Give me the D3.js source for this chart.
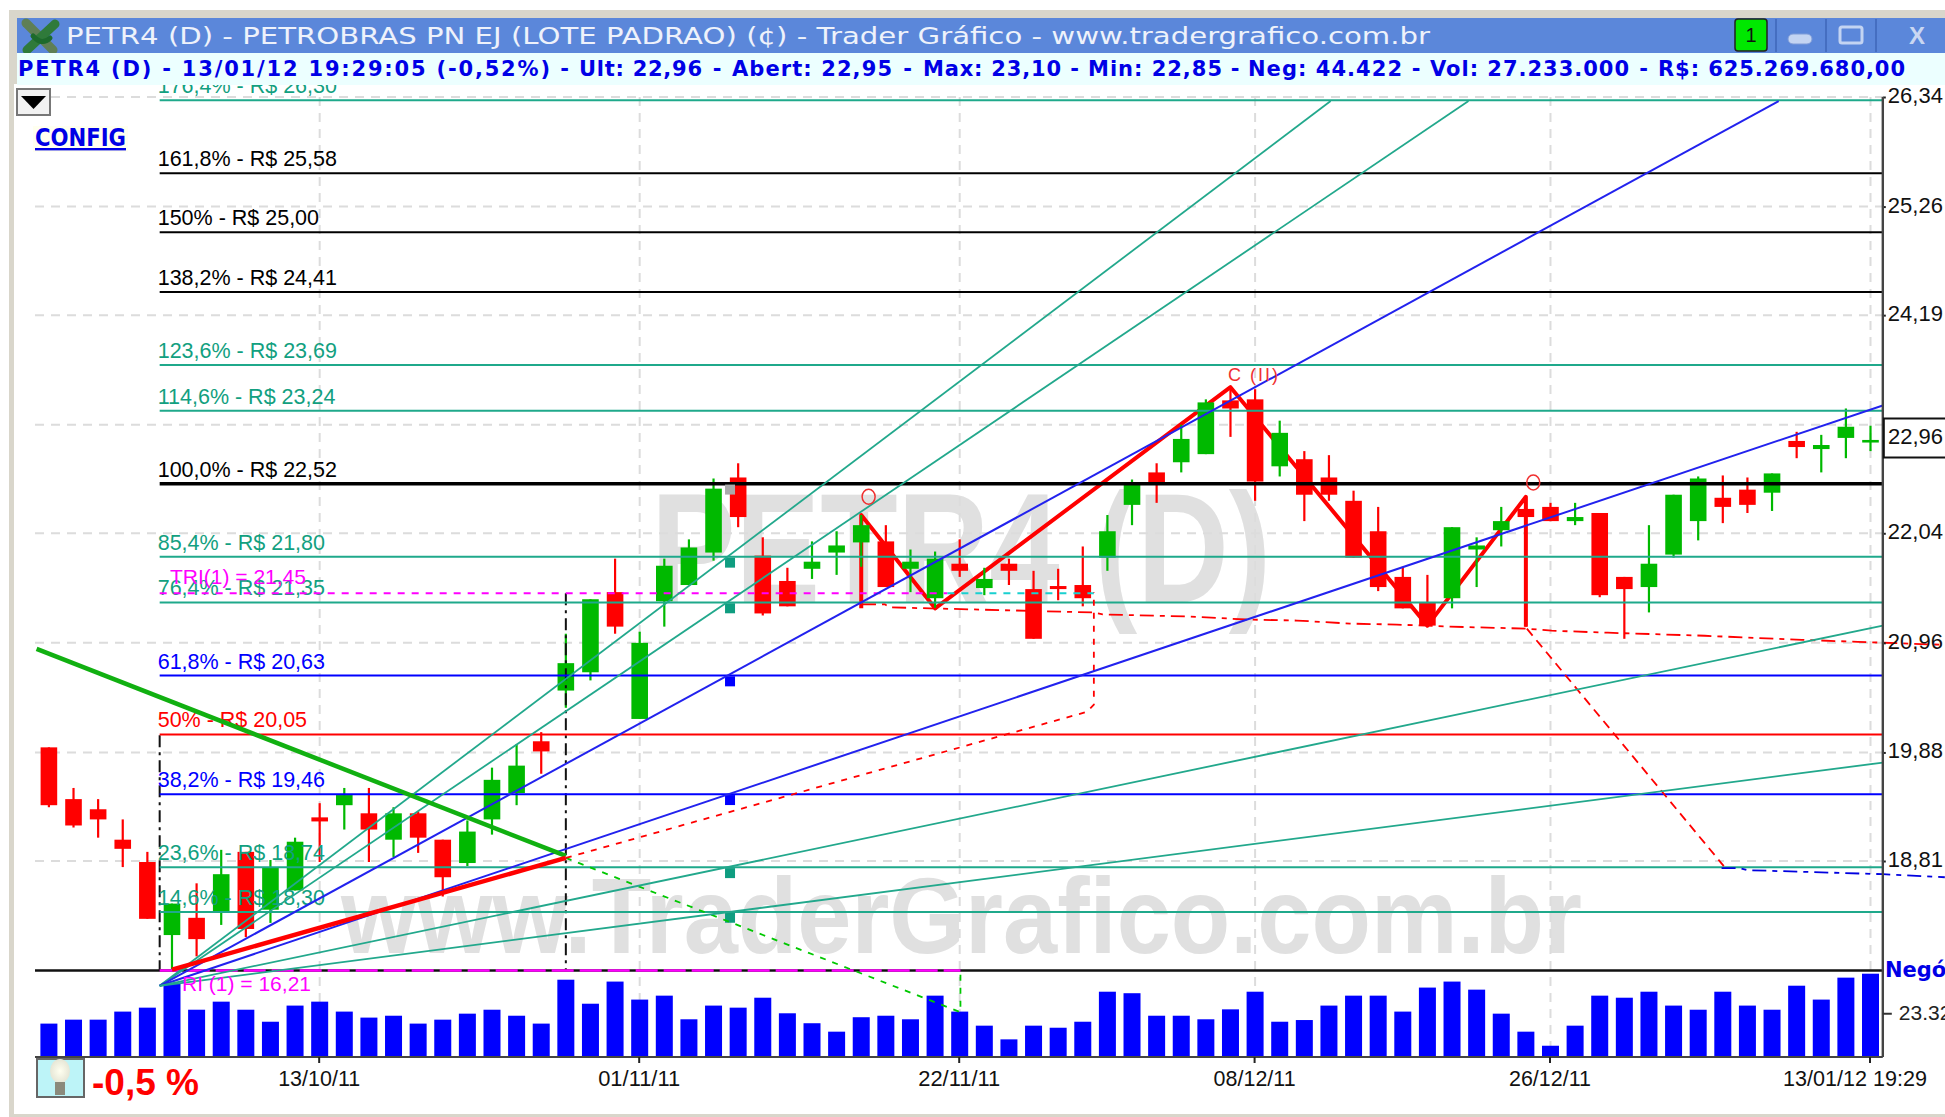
<!DOCTYPE html>
<html>
<head>
<meta charset="utf-8">
<script src="https://cdnjs.cloudflare.com/ajax/libs/d3/7.8.5/d3.min.js"></script>
<style>
html,body{margin:0;padding:0;background:#fff;overflow:hidden}
svg{display:block}
text{font-family:"Liberation Sans",Arial,sans-serif}
</style>
</head>
<body>
<svg id="c" width="1945" height="1117"></svg>
<script>
const dateTicks=[11,24,37,49,61,74];
const dateLabels=["13/10/11","01/11/11","22/11/11","08/12/11","26/12/11","13/01/12 19:29"];
const priceTicks=[26.34,25.26,24.19,22.04,20.96,19.88,18.81];
const priceGrid=[26.34,25.26,24.19,23.11,22.04,20.96,19.88,18.81];
const opens=[19.93,19.42,19.32,19.02,18.80,18.08,18.25,18.30,18.90,18.33,18.52,19.24,19.36,19.28,19.02,19.28,19.02,18.79,19.22,19.48,19.99,20.49,20.67,21.46,20.21,21.37,21.53,21.85,22.59,21.82,21.57,21.69,21.85,21.95,21.96,21.69,21.40,21.74,21.50,21.74,21.49,21.52,21.53,21.80,22.32,22.64,22.74,22.82,23.35,23.36,22.70,22.77,22.59,22.36,22.06,21.61,21.36,21.40,21.88,22.07,22.28,22.30,22.16,22.24,21.61,21.51,21.83,22.16,22.39,22.47,22.44,22.95,22.87,22.98,22.95];
const highs=[19.93,19.53,19.42,19.22,18.90,18.39,18.59,18.92,18.90,18.82,19.04,19.38,19.53,19.53,19.34,19.30,19.02,19.21,19.73,19.96,20.08,21.05,21.39,21.79,21.07,21.79,21.98,22.58,22.73,22.00,21.70,21.96,22.06,22.22,22.12,21.88,21.86,21.98,21.70,21.79,21.67,21.69,21.91,22.22,22.57,22.73,23.11,23.36,23.48,23.46,23.15,22.85,22.81,22.46,22.30,21.71,21.63,22.10,22.00,22.30,22.40,22.34,22.34,22.24,21.61,22.12,22.42,22.60,22.61,22.59,22.63,23.04,23.01,23.27,23.10];
const lows=[19.34,19.14,19.04,18.75,18.24,17.74,17.87,18.18,18.06,18.20,18.52,18.80,19.12,18.80,18.85,18.89,18.46,18.76,19.07,19.36,19.67,20.32,20.59,21.05,20.21,21.12,21.53,21.77,22.10,21.23,21.32,21.59,21.63,21.71,21.51,21.46,21.30,21.61,21.43,21.53,21.00,21.38,21.32,21.67,22.12,22.34,22.64,22.82,22.99,22.36,22.60,22.16,22.36,21.80,21.47,21.30,21.13,21.30,21.51,21.91,21.12,22.16,22.12,21.41,21.00,21.26,21.80,21.97,22.14,22.24,22.26,22.78,22.64,22.78,22.85];
const closes=[19.36,19.16,19.22,18.93,18.24,18.39,18.04,18.68,18.14,18.75,19.00,19.20,19.46,19.12,19.28,19.04,18.65,19.10,19.61,19.75,19.89,20.76,21.39,21.12,20.96,21.72,21.90,22.48,22.20,21.25,21.32,21.76,21.92,22.12,21.51,21.76,21.79,21.67,21.59,21.67,21.00,21.49,21.40,22.06,22.54,22.52,22.97,23.33,23.27,22.55,23.03,22.42,22.42,21.80,21.51,21.30,21.13,22.10,21.92,22.16,22.20,22.16,22.20,21.43,21.49,21.74,22.42,22.58,22.30,22.32,22.63,22.89,22.91,23.09,22.96];
const trades=[17.8,19.9,19.9,24.2,26.3,39.6,25.2,29.5,25.2,18.8,27.4,29.5,24.2,21.0,22.0,17.8,19.9,23.1,25.2,22.0,17.8,41.2,28.4,40.2,30.6,32.7,20.1,27.4,26.3,31.6,23.3,18.0,13.5,21.2,22.0,20.1,32.7,24.2,16.7,9.4,16.7,15.6,18.8,34.8,34.0,22.0,22.0,20.1,25.4,34.8,18.8,19.7,27.4,32.7,32.7,24.2,37.0,40.2,35.9,23.1,13.5,6.0,16.7,32.7,31.6,34.8,27.4,25.2,34.8,27.4,25.2,38.0,30.6,42.3,44.4];
const fibPercents=["176,4%","161,8%","150%","138,2%","123,6%","114,6%","100,0%","85,4%","76,4%","61,8%","50%","38,2%","23,6%","14,6%"];
const fibPrices=[26.30,25.58,25.00,24.41,23.69,23.24,22.52,21.80,21.35,20.63,20.05,19.46,18.74,18.30];
const fibKinds=["teal","black","black","black","teal","teal","heavy","teal","teal","blue","red","blue","teal","teal"];
const squarePrices=[22.52,21.80,21.35,20.63,19.46,18.74,18.30];
const squareKinds=["gray","teal","teal","blue","blue","teal","teal"];
const fanStart=[4.5,17.58];
const fanEnds=[[52.07,26.30],[57.67,26.30],[70.27,26.30],[74.5,23.30],[74.5,21.13],[74.5,19.78]];
const fanKinds=["teal","teal","blue","blue","teal","teal"];
const zigzag=[[33,21.30],[33,22.22],[36,21.30],[48,23.48],[56,21.13],[60,22.40],[60,21.12]];
const baseLine=[[5,17.74],[21,18.84]];
const downTrend=[[-0.5,20.90],[21,18.86]];
const greenDash=[[21,18.84],[37.03,17.32],[37.03,17.74]];
const redDashUp=[[21,18.84],[42.16,20.28],[42.45,20.35],[42.45,21.46]];
const stopLine=[[33.03,21.34],[33.96,21.34],[34.16,21.31],[42.41,21.26],[42.81,21.24],[46.35,21.22],[48.66,21.19],[50.70,21.18],[52.85,21.15],[54.76,21.14],[56.91,21.12],[60.04,21.10],[61.05,21.08],[63.33,21.06],[67.27,21.03],[71.21,20.99],[73.49,20.97],[77.02,20.94]];
const redDashDown=[[60.04,21.10],[68.04,18.76]];
const blueStop=[[67.95,18.74],[68.68,18.74],[69,18.72],[74.5,18.68],[77.02,18.65]];
const triMagenta=[[4.5,21.45],[36.5,21.45]];
const triCyan=[[36.5,21.45],[42.45,21.45]];
const riLine=[[4.5,17.73],[37.03,17.73]];
const rings=[[33.3,22.40],[60.3,22.54]];
const infoSegments=["PETR4 (D) - 13/01/12 19:29:05 (-0,52%)","Ult: 22,96","Abert: 22,95","Max: 23,10","Min: 22,85","Neg: 44.422","Vol: 27.233.000","R$: 625.269.680,00"];
const infoLeft=[18,579,732,923,1088,1248,1430,1658];
const infoWidth=[532,123,160,138,134,154,199,247];

const TEAL="#1fa98b",GREEN="#00b900",RED="#ff0000",BLUE="#0000ff";
const kindColor={teal:TEAL,black:"#000",heavy:"#000",blue:"#0000ff",red:"#ff0000",gray:"#aaa"};
const labelColor=k=>k==="teal"?"#12a080":kindColor[k];

const svg=d3.select("#c");
const x=d3.scaleLinear().domain([0,74]).range([48.9,1870.5]);
const y=d3.scaleLinear().domain([26.34,18.81]).range([97,861]);
const v=d3.scaleLinear().domain([0,44.4]).range([1057,973.7]);
const line=d3.line().x(d=>x(d[0])).y(d=>y(d[1]));
const LEFT=35,RIGHT=x(74.5),FIBX=x(4.5);
const defs=svg.append("defs");
defs.append("clipPath").attr("id","plot").append("rect").attr("x",0).attr("y",85).attr("width",1945).attr("height",1032);
defs.append("clipPath").attr("id","fanclip").append("rect").attr("x",0).attr("y",98).attr("width",RIGHT).attr("height",1019);

// window frame
svg.append("rect").attr("x",9).attr("y",10).attr("width",1936).attr("height",8).attr("fill","#d9d6cb");
svg.append("rect").attr("x",9).attr("y",10).attr("width",5).attr("height",1107).attr("fill","#d9d6cb");
svg.append("rect").attr("x",9).attr("y",1114).attr("width",1936).attr("height",3).attr("fill","#d9d6cb");
svg.append("rect").attr("x",14).attr("y",18).attr("width",3).attr("height",66).attr("fill","#d9d6cb");

const plot=svg.append("g").attr("clip-path","url(#plot)");

// watermarks
plot.append("text").attr("x",651).attr("y",602).attr("textLength",620).attr("lengthAdjust","spacingAndGlyphs")
 .attr("font-size",156).attr("font-weight","bold").attr("fill","#e0e0e0").text("PETR4 (D)");
plot.append("text").attr("x",341).attr("y",953).attr("textLength",1241).attr("lengthAdjust","spacingAndGlyphs")
 .attr("font-size",108).attr("font-weight","bold").attr("fill","#e0e0e0").text("www.TraderGrafico.com.br");

// grid
const grid=plot.append("g").attr("stroke","#dcdcdc").attr("stroke-width",2).attr("stroke-dasharray","9 7");
grid.selectAll("line.h").data(priceGrid).join("line").attr("class","h").attr("x1",LEFT).attr("x2",RIGHT).attr("y1",d=>y(d)).attr("y2",d=>y(d));
grid.selectAll("line.v").data(dateTicks).join("line").attr("class","v").attr("x1",d=>x(d)).attr("x2",d=>x(d)).attr("y1",y(26.34)).attr("y2",v(0));

// volume bars
plot.append("g").selectAll("rect").data(trades).join("rect")
 .attr("x",(d,i)=>x(i)-8.5).attr("width",17).attr("y",d=>v(d)).attr("height",d=>v(0)-v(d)).attr("fill",BLUE);

// base lines
plot.append("line").attr("x1",LEFT).attr("x2",RIGHT).attr("y1",y(17.73)).attr("y2",y(17.73)).attr("stroke","#111").attr("stroke-width",2.5);
plot.append("line").attr("x1",LEFT).attr("x2",RIGHT).attr("y1",v(0)).attr("y2",v(0)).attr("stroke","#444").attr("stroke-width",2);

// swing line sits under the candles
plot.append("path").attr("d",line(zigzag)).attr("fill","none").attr("stroke",RED).attr("stroke-width",4).attr("stroke-linejoin","round");

// candles
const candles=plot.append("g");
candles.selectAll("line").data(opens).join("line")
 .attr("x1",(d,i)=>x(i)).attr("x2",(d,i)=>x(i)).attr("y1",(d,i)=>y(highs[i])).attr("y2",(d,i)=>y(lows[i]))
 .attr("stroke",(d,i)=>closes[i]<opens[i]?RED:GREEN).attr("stroke-width",2.2);
candles.selectAll("rect").data(opens).join("rect")
 .attr("x",(d,i)=>x(i)-8.3).attr("width",16.6)
 .attr("y",(d,i)=>y(Math.max(d,closes[i])))
 .attr("height",(d,i)=>Math.max(2.6,Math.abs(y(d)-y(closes[i]))))
 .attr("fill",(d,i)=>closes[i]<opens[i]?RED:GREEN);

// black dashed verticals
const dv=plot.append("g").attr("stroke","#111").attr("stroke-width",2).attr("stroke-dasharray","12 5 3 5").attr("fill","none");
dv.append("path").attr("d",line([[4.5,20.05],[4.5,17.73]]));
dv.append("path").attr("d",line([[21,21.45],[21,17.73]]));

// Fibonacci levels
const fib=plot.append("g").attr("transform","translate(0,-0.8)");
fib.selectAll("line").data(fibPrices).join("line").attr("x1",FIBX).attr("x2",RIGHT)
 .attr("y1",d=>y(d)).attr("y2",d=>y(d))
 .attr("stroke",(d,i)=>kindColor[fibKinds[i]]).attr("stroke-width",(d,i)=>fibKinds[i]==="heavy"?3.6:2);
fib.selectAll("text").data(fibPrices).join("text").attr("x",FIBX-2).attr("y",d=>y(d)-7)
 .attr("font-size",21.5).attr("fill",(d,i)=>labelColor(fibKinds[i]))
 .text((d,i)=>`${fibPercents[i]} - R$ ${d.toFixed(2).replace(".",",")}`);

// squares on the fan
plot.append("g").selectAll("rect").data(squarePrices).join("rect")
 .attr("x",x(27.67)-5).attr("width",10).attr("y",d=>y(d)).attr("height",10)
 .attr("fill",(d,i)=>kindColor[squareKinds[i]]==TEAL?"#0f9d80":kindColor[squareKinds[i]]);

// tri lines
plot.append("path").attr("d",line(riLine)).attr("fill","none").attr("stroke","#ff00ff").attr("stroke-width",2.5).attr("stroke-dasharray","22 6");
plot.append("path").attr("d",line(triMagenta)).attr("fill","none").attr("stroke","#ff00ff").attr("stroke-width",2).attr("stroke-dasharray","7 7");
plot.append("path").attr("d",line(triCyan)).attr("fill","none").attr("stroke","#19d0d0").attr("stroke-width",2).attr("stroke-dasharray","7 7");

// dashed projections
const dash=(pts,color,da,w)=>plot.append("path").attr("d",line(pts)).attr("fill","none").attr("stroke",color).attr("stroke-width",w||1.8).attr("stroke-dasharray",da);
dash(greenDash,"#00c800","6 7");
dash(redDashUp,RED,"6 7");
dash(stopLine,RED,"14 6 5 6");
dash(redDashDown,RED,"9 6");
dash(blueStop,"#0000e0","14 6 5 6");

// fan
plot.append("g").attr("clip-path","url(#fanclip)").selectAll("path").data(fanEnds).join("path")
 .attr("d",d=>line([fanStart,d])).attr("fill","none")
 .attr("stroke",(d,i)=>fanKinds[i]==="blue"?"#2222ee":"#22a88c").attr("stroke-width",(d,i)=>fanKinds[i]==="blue"?2:1.8);

// trend lines
plot.append("path").attr("d",line(downTrend)).attr("fill","none").attr("stroke","#11b011").attr("stroke-width",4.5);
plot.append("path").attr("d",line(baseLine)).attr("fill","none").attr("stroke",RED).attr("stroke-width",4.5);
plot.append("g").selectAll("ellipse").data(rings).join("ellipse")
 .attr("cx",d=>x(d[0])).attr("cy",d=>y(d[1])).attr("rx",6.5).attr("ry",7.5).attr("fill","none").attr("stroke","#f03030").attr("stroke-width",1.5);
plot.append("text").attr("x",1228).attr("y",381).attr("font-size",18).attr("fill","#f03030").attr("textLength",50).text("C (II)");
plot.append("text").attr("x",170).attr("y",584).attr("font-size",21).attr("fill","#ff00ff").text("TRI(1) = 21,45");
plot.append("text").attr("x",182).attr("y",991).attr("font-size",21).attr("fill","#ff00ff").text("RI (1) = 16,21");

// axes
const axG=svg.append("g").attr("transform",`translate(${RIGHT},0)`)
 .call(d3.axisRight(y).tickValues(priceTicks).tickSize(3).tickPadding(2).tickFormat(d=>d.toFixed(2).replace(".",",")));
axG.select(".domain").remove();
axG.selectAll("text").attr("font-size",22).attr("fill","#111").attr("font-family","Liberation Sans").attr("dy","5.5px");
axG.selectAll("line").attr("stroke","#222").attr("stroke-width",2);
svg.append("line").attr("x1",RIGHT).attr("x2",RIGHT).attr("y1",y(26.34)).attr("y2",v(0)).attr("stroke","#444").attr("stroke-width",2.4);

const xG=svg.append("g").attr("transform",`translate(-1,${v(0)})`)
 .call(d3.axisBottom(x).tickValues(dateTicks).tickSize(6).tickPadding(7).tickFormat((d,i)=>dateLabels[i]));
xG.select(".domain").remove();
xG.selectAll("text").attr("font-size",22).attr("fill","#111").attr("font-family","Liberation Sans").attr("textLength",(d,i)=>i===5?144:82).attr("lengthAdjust","spacingAndGlyphs");
xG.selectAll("line").attr("stroke","#222").attr("stroke-width",2);
xG.selectAll(".tick:last-of-type text").attr("dx",-15);

const vG=svg.append("g").attr("transform",`translate(${RIGHT},0)`)
 .call(d3.axisRight(v).tickValues([23.322]).tickSize(9).tickPadding(7).tickFormat(d=>d3.format(".3f")(d)));
vG.select(".domain").remove();
vG.selectAll("text").attr("font-size",21).attr("fill","#222").attr("font-family","Liberation Sans");
vG.selectAll("line").attr("stroke","#333").attr("stroke-width",2);

svg.append("text").attr("x",1885).attr("y",977).attr("font-size",21).attr("font-weight","bold").attr("fill","#0000e6").attr("style","font-family:'DejaVu Sans'").text("Negócios");

// last price box
svg.append("rect").attr("x",RIGHT+1).attr("y",418.5).attr("width",70).attr("height",39).attr("fill","#fff").attr("stroke","#111").attr("stroke-width",2);
svg.append("text").attr("x",1888).attr("y",444).attr("font-size",22).attr("fill","#111").text(closes[74].toFixed(2).replace(".",","));

// title bar
svg.append("rect").attr("x",17).attr("y",18).attr("width",1928).attr("height",35).attr("fill","#5b87da");
svg.append("text").attr("x",66).attr("y",44).attr("font-size",23).attr("fill","#eef2fb").attr("style","font-family:'DejaVu Sans'")
 .attr("textLength",1364).attr("lengthAdjust","spacingAndGlyphs")
 .text("PETR4 (D) - PETROBRAS PN EJ (LOTE PADRAO) (¢) - Trader Gráfico - www.tradergrafico.com.br");
// logo
const logo=svg.append("g").attr("fill","none").attr("stroke-linecap","round");
logo.append("path").attr("d","M26 23L53 50").attr("stroke","#5f7f55").attr("stroke-width",9);
logo.append("path").attr("d","M55 24L27 50").attr("stroke","#2f7a3a").attr("stroke-width",9);
logo.append("path").attr("d","M33 36Q42 46 50 38").attr("stroke","#1d6a2c").attr("stroke-width",5);
// info bar
svg.append("rect").attr("x",17).attr("y",53).attr("width",1928).attr("height",32).attr("fill","#ecffff");
const info=svg.append("g").attr("font-size",21).attr("font-weight","bold").attr("fill","#0000e6").attr("style","font-family:'DejaVu Sans'");
info.selectAll("text.s").data(infoSegments).join("text").attr("class","s").attr("style","font-family:'DejaVu Sans'")
 .attr("x",(d,i)=>infoLeft[i]).attr("y",76).attr("textLength",(d,i)=>infoWidth[i]).attr("lengthAdjust","spacing").text(d=>d);
info.selectAll("text.d").data(infoLeft.slice(1)).join("text").attr("class","d").attr("style","font-family:'DejaVu Sans'")
 .attr("x",(d,i)=>(infoLeft[i]+infoWidth[i]+d)/2).attr("y",76).attr("text-anchor","middle").text("-");
// window buttons
svg.append("rect").attr("x",1735).attr("y",19).attr("width",32).attr("height",32).attr("rx",3).attr("fill","#00e800").attr("stroke","#222").attr("stroke-width",1.5);
svg.append("text").attr("x",1751).attr("y",42).attr("text-anchor","middle").attr("font-size",20).attr("fill","#111").text("1");
[1776,1826,1876].forEach(px=>svg.append("line").attr("x1",px).attr("x2",px).attr("y1",19).attr("y2",52).attr("stroke","#3e66b8").attr("stroke-width",1.5));
svg.append("rect").attr("x",1788).attr("y",34).attr("width",24).attr("height",10).attr("rx",5).attr("fill","#c3d4f2").attr("stroke","#7f9cd8").attr("stroke-width",1);
svg.append("rect").attr("x",1840).attr("y",27).attr("width",22).attr("height",16).attr("rx",2).attr("fill","none").attr("stroke","#c3d4f2").attr("stroke-width",3);
svg.append("text").attr("x",1917).attr("y",44).attr("text-anchor","middle").attr("font-size",24).attr("font-weight","bold").attr("fill","#c9d7f2").text("X");

// drop-down button
svg.append("rect").attr("x",17).attr("y",89).attr("width",33).attr("height",26).attr("fill","#f2f2f2").attr("stroke","#777").attr("stroke-width",2);
svg.append("path").attr("d","M21 96H46L33.5 109Z").attr("fill","#000");
// config link
svg.append("rect").attr("x",33).attr("y",126).attr("width",95).attr("height",26).attr("fill","#fffff0");
svg.append("text").attr("x",35).attr("y",146).attr("font-size",24).attr("font-weight","bold").attr("fill","#0000e6").attr("text-decoration","underline")
 .attr("textLength",91).attr("lengthAdjust","spacingAndGlyphs").attr("style","font-family:'DejaVu Sans'").text("CONFIG");
// lamp
const lampGrad=defs.append("radialGradient").attr("id","lamp");
lampGrad.append("stop").attr("offset","0%").attr("stop-color","#fffff0");
lampGrad.append("stop").attr("offset","100%").attr("stop-color","#e6e6d6");
svg.append("rect").attr("x",37).attr("y",1059).attr("width",47).attr("height",38).attr("fill","#bdf4f8").attr("stroke","#666").attr("stroke-width",2);
svg.append("ellipse").attr("cx",60).attr("cy",1071).attr("rx",10).attr("ry",12).attr("fill","url(#lamp)");
svg.append("rect").attr("x",55).attr("y",1082).attr("width",10).attr("height",13).attr("fill","#8a8a7c");
svg.append("text").attr("x",92).attr("y",1095).attr("font-size",36).attr("font-weight","bold").attr("fill",RED)
 .attr("textLength",107).attr("lengthAdjust","spacingAndGlyphs").text("-0,5 %");
</script>
</body>
</html>
